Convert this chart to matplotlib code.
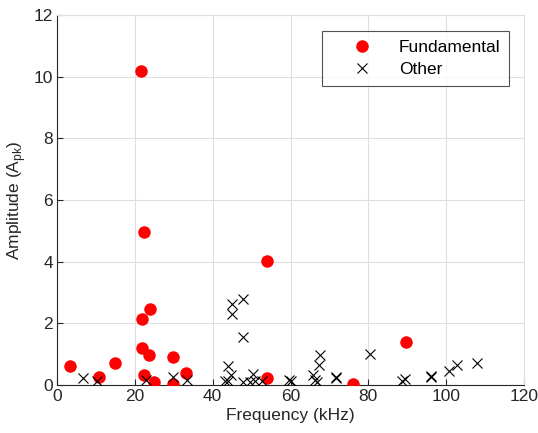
import numpy as np
import matplotlib
matplotlib.use("Agg")
import matplotlib.pyplot as plt

plt.rcParams["font.family"] = ["Liberation Sans", "DejaVu Sans"]

# Fundamental peaks (kHz, A_pk)
fund_freq = [21.5, 22.4, 53.9, 23.9, 21.9, 21.8, 23.7, 29.9, 14.9, 3.3,
             33.1, 22.3, 10.8, 54.0, 25.0, 29.9, 76.0, 89.8]
fund_amp = [10.2, 4.95, 4.03, 2.45, 2.13, 1.21, 0.97, 0.90, 0.72, 0.63,
            0.39, 0.32, 0.25, 0.22, 0.10, 0.03, 0.03, 1.38]

# Other peaks
other_freq = [6.8, 10.4, 22.9, 29.7, 33.5, 43.2, 44.0, 44.0, 44.6, 45.0,
              45.0, 47.8, 47.8, 47.9, 49.6, 50.3, 50.9, 52.6, 59.6, 60.0,
              65.9, 66.3, 66.7, 67.3, 67.5, 71.7, 71.8, 80.3, 88.7, 89.3,
              96.0, 96.0, 100.8, 102.9, 107.8]
other_amp = [0.22, 0.12, 0.17, 0.25, 0.16, 0.14, 0.14, 0.63, 0.32, 2.30,
             2.64, 2.78, 1.55, 0.10, 0.10, 0.34, 0.12, 0.12, 0.17, 0.12,
             0.32, 0.15, 0.10, 0.66, 0.97, 0.25, 0.22, 0.99, 0.12, 0.20,
             0.29, 0.25, 0.46, 0.64, 0.71]

fig = plt.figure(figsize=(5.38, 4.33), dpi=100)
ax = fig.add_axes([0.106, 0.111, 0.868, 0.854])

ax.plot(fund_freq, fund_amp, "o", color="#ff0000", markersize=9,
        markeredgewidth=0, label="Fundamental", zorder=3)
ax.plot(other_freq, other_amp, "x", color="black", markersize=7.5,
        markeredgewidth=0.8, label="Other", zorder=3)

ax.set_xlim(0, 120)
ax.set_ylim(0, 12)
ax.set_xticks(np.arange(0, 121, 20))
ax.set_yticks(np.arange(0, 13, 2))
ax.grid(True, color="#dfdfdf", linewidth=0.8)
ax.set_axisbelow(True)

for side in ["top", "right"]:
    ax.spines[side].set_color("#dfdfdf")
    ax.spines[side].set_linewidth(0.8)
for side in ["left", "bottom"]:
    ax.spines[side].set_color("#262626")
    ax.spines[side].set_linewidth(0.8)
ax.tick_params(direction="in", length=4, width=0.8, colors="#262626",
               labelsize=12.5, pad=3)

ax.set_xlabel("Frequency (kHz)", fontsize=12.5, color="#262626", labelpad=3)
ax.set_ylabel(r"Amplitude (A$_{\mathregular{pk}}$)", fontsize=12.5,
              color="#262626", labelpad=4)

leg = ax.legend(loc="upper right", bbox_to_anchor=(0.968, 0.957),
                fontsize=12.5, frameon=True, fancybox=False,
                handlelength=3.6, handletextpad=0.3, borderpad=0.5,
                labelspacing=0.4, borderaxespad=0)
leg.get_frame().set_edgecolor("#262626")
leg.get_frame().set_linewidth(0.8)

fig.savefig("out.png", dpi=100)
